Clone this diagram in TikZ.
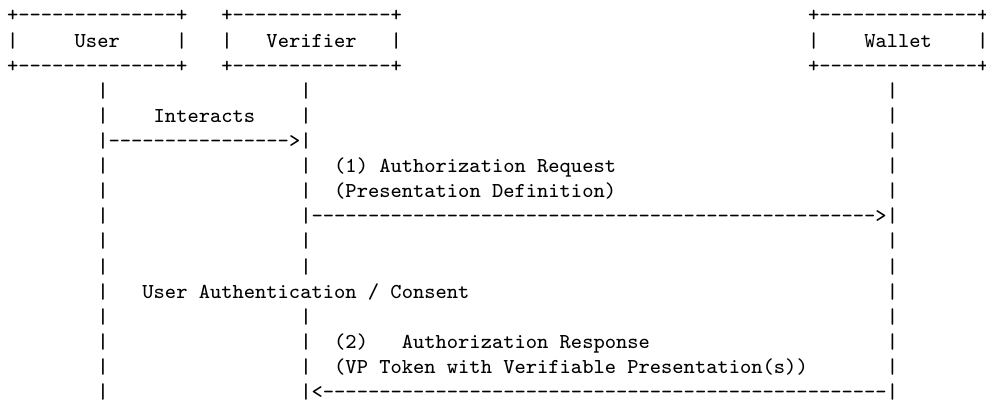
\documentclass[tikz,border=0pt]{standalone}
\usepackage{fontspec}
\usepackage{tikz}

\begin{document}
\begin{tikzpicture}[x=4.25pt,y=-9.46pt,
        ascii/.style={anchor=base west,inner sep=0pt,outer sep=0pt,
                      font=\fontsize{8}{9.5}\selectfont\ttfamily}]
        \useasboundingbox (-0.627,-0.875) rectangle (86.78,15.17);

        \node[ascii] (user_top)     at (0,0)  {+--------------+};
        \node[ascii] (user)         at (0,1)  {|~~~~~User~~~~~|};
        \node[ascii] (user_bot)     at (0,2)  {+--------------+};
        \node[ascii] (verifier_top) at (19,0) {+--------------+};
        \node[ascii] (verifier)     at (19,1) {|~~~Verifier~~~|};
        \node[ascii] (verifier_bot) at (19,2) {+--------------+};
        \node[ascii] (wallet_top)   at (71,0) {+--------------+};
        \node[ascii] (wallet)       at (71,1) {|~~~~Wallet~~~~|};
        \node[ascii] (wallet_bot)   at (71,2) {+--------------+};

        \foreach \r in {3,...,15} {
            \node[ascii] (user_\r)   at (8,\r)  {|};
            \node[ascii] (wallet_\r) at (78,\r) {|};
        }
        \foreach \r in {3,4,5,6,7,8,9,10,12,13,14,15} {
            \node[ascii] (verifier_\r) at (26,\r) {|};
        }

        \node[ascii] (interacts)  at (13,4)  {Interacts};
        \node[ascii] (to_ver)     at (9,5)   {---------------->};

        \node[ascii] (auth_req)   at (29,6)  {(1) Authorization Request};
        \node[ascii] (pres_def)   at (29,7)  {(Presentation Definition)};
        \node[ascii] (to_wallet)  at (27,8)  {-------------------------------------------------->};

        \node[ascii] (consent)    at (12,11) {User Authentication / Consent};

        \node[ascii] (auth_resp)  at (29,13) {(2)~~~Authorization Response};
        \node[ascii] (vp_token)   at (29,14) {(VP Token with Verifiable Presentation(s))};
        \node[ascii] (from_wallet) at (27,15) {<--------------------------------------------------};

\end{tikzpicture}
\end{document}
